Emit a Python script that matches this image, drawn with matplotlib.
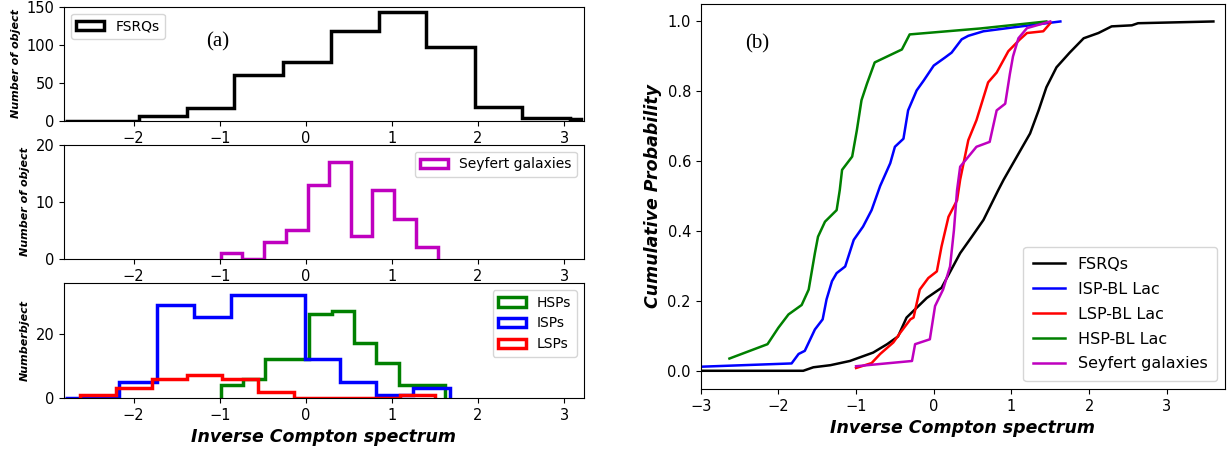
import numpy as np
import matplotlib
matplotlib.use("Agg")
import matplotlib.pyplot as plt

# ---- histogram data (bin edges + counts) ----
fsrq_edges = [-2.80, -1.94, -1.38, -0.83, -0.27, 0.29, 0.85, 1.40, 1.96, 2.51, 3.07, 3.20]
fsrq_counts = [0, 7, 17, 60, 78, 118, 143, 97, 18, 4, 2]

sey_edges = [-0.99, -0.74, -0.49, -0.23, 0.02, 0.27, 0.52, 0.77, 1.02, 1.28, 1.53]
sey_counts = [1, 0, 3, 5, 13, 17, 4, 12, 7, 2]

hsp_edges = [-0.99, -0.73, -0.47, -0.22, 0.04, 0.30, 0.56, 0.82, 1.08, 1.35, 1.62]
hsp_counts = [4, 6, 12, 12, 26, 27, 17, 11, 4, 4]

isp_edges = [-2.80, -2.17, -1.73, -1.30, -0.87, -0.44, -0.01, 0.40, 0.82, 1.25, 1.67]
isp_counts = [0, 5, 29, 25, 32, 32, 12, 5, 1, 3]

lsp_edges = [-2.62, -2.21, -1.79, -1.38, -0.97, -0.56, -0.14, 0.27, 0.68, 1.09, 1.50]
lsp_counts = [1, 3, 6, 7, 6, 2, 0, 0, 0, 1]

# ---- cumulative curves (panel b) ----
fsrq_x = [-3.2, -1.68, -1.55, -1.33, -1.08, -0.78, -0.60, -0.46, -0.35, -0.09, 0.10, 0.34,
          0.49, 0.64, 0.83, 0.90, 1.07, 1.24, 1.35, 1.45, 1.58, 1.75, 1.93, 2.12, 2.29,
          2.55, 2.63, 3.60]
fsrq_y = [0.002, 0.002, 0.012, 0.018, 0.03, 0.054, 0.078, 0.10, 0.154, 0.21, 0.239, 0.338,
          0.385, 0.433, 0.518, 0.548, 0.614, 0.68, 0.746, 0.812, 0.869, 0.911, 0.952, 0.967,
          0.986, 0.989, 0.995, 1.0]

isp_x = [-3.2, -1.83, -1.74, -1.66, -1.53, -1.43, -1.38, -1.31, -1.25, -1.14, -1.03, -0.91,
         -0.80, -0.69, -0.56, -0.50, -0.39, -0.33, -0.22, -0.13, 0.0, 0.145, 0.23, 0.36,
         0.445, 0.64, 1.02, 1.63]
isp_y = [0.012, 0.023, 0.05, 0.059, 0.12, 0.149, 0.206, 0.258, 0.281, 0.30, 0.376, 0.414,
         0.461, 0.53, 0.595, 0.642, 0.665, 0.746, 0.803, 0.831, 0.874, 0.897, 0.911, 0.949,
         0.959, 0.972, 0.983, 1.0]

lsp_x = [-1.0, -0.80, -0.69, -0.52, -0.43, -0.30, -0.26, -0.18, -0.07, 0.04, 0.10, 0.19,
         0.30, 0.34, 0.445, 0.55, 0.70, 0.81, 0.96, 1.11, 1.20, 1.41, 1.50]
lsp_y = [0.01, 0.024, 0.05, 0.083, 0.111, 0.149, 0.154, 0.234, 0.267, 0.286, 0.357, 0.442,
         0.489, 0.548, 0.661, 0.718, 0.826, 0.854, 0.915, 0.949, 0.967, 0.972, 0.995]

hsp_x = [-2.63, -2.14, -2.00, -1.87, -1.70, -1.61, -1.53, -1.49, -1.40, -1.25, -1.21, -1.18,
         -1.05, -0.99, -0.93, -0.86, -0.76, -0.41, -0.31, 0.60, 1.45]
hsp_y = [0.037, 0.078, 0.125, 0.163, 0.19, 0.234, 0.338, 0.385, 0.428, 0.461, 0.518, 0.576,
         0.614, 0.689, 0.775, 0.822, 0.883, 0.92, 0.963, 0.98, 1.0]

sey_x = [-1.0, -0.28, -0.24, -0.05, 0.017, 0.12, 0.21, 0.26, 0.30, 0.34, 0.55, 0.72, 0.81,
         0.92, 0.98, 1.02, 1.09, 1.20, 1.50]
sey_y = [0.015, 0.03, 0.078, 0.092, 0.187, 0.234, 0.30, 0.404, 0.518, 0.585, 0.642, 0.656,
         0.746, 0.765, 0.85, 0.90, 0.952, 0.981, 1.0]

fig = plt.figure(figsize=(12.28, 4.51), dpi=100)

ax1 = fig.add_axes([0.052, 0.732, 0.4235, 0.253])
ax2 = fig.add_axes([0.052, 0.426, 0.4235, 0.253])
ax3 = fig.add_axes([0.052, 0.1175, 0.4235, 0.255])
axb = fig.add_axes([0.5706, 0.1375, 0.427, 0.8537])


def step_hist(ax, edges, counts, color, label):
    ax.hist(edges[:-1], bins=edges, weights=counts, histtype="step",
            color=color, lw=2.5, label=label)


step_hist(ax1, fsrq_edges, fsrq_counts, "k", "FSRQs")
step_hist(ax2, sey_edges, sey_counts, "m", "Seyfert galaxies")
step_hist(ax3, hsp_edges, hsp_counts, "g", "HSPs")
step_hist(ax3, isp_edges, isp_counts, "b", "ISPs")
step_hist(ax3, lsp_edges, lsp_counts, "r", "LSPs")

ylab = dict(fontsize=8, fontweight="bold", fontstyle="italic")
for ax in (ax1, ax2, ax3):
    ax.set_xlim(-2.81, 3.23)
    ax.tick_params(labelsize=10.5)
ax1.set_ylim(0, 150)
ax1.set_yticks([0, 50, 100, 150])
ax2.set_ylim(0, 20)
ax2.set_yticks([0, 10, 20])
ax3.set_ylim(0, 35.7)
ax3.set_yticks([0, 20])

ax1.set_ylabel("Number of object", **ylab)
ax2.set_ylabel("Number of object", **ylab)
ax3.set_ylabel("Numberbject", **ylab)
ax3.set_xlabel("Inverse Compton spectrum", fontsize=12.5, fontweight="bold", fontstyle="italic")

ax1.legend(loc="upper left", fontsize=10)
ax2.legend(loc="upper right", fontsize=10)
ax3.legend(loc="upper right", fontsize=10)
ax1.text(-1.02, 104, "(a)", family="Liberation Serif", fontsize=15, ha="center", va="center")

# ---- panel b ----
axb.plot(fsrq_x, fsrq_y, color="k", lw=1.8, label="FSRQs")
axb.plot(isp_x, isp_y, color="b", lw=1.8, label="ISP-BL Lac")
axb.plot(lsp_x, lsp_y, color="r", lw=1.8, label="LSP-BL Lac")
axb.plot(hsp_x, hsp_y, color="g", lw=1.8, label="HSP-BL Lac")
axb.plot(sey_x, sey_y, color="m", lw=1.8, label="Seyfert galaxies")
axb.set_xlim(-3, 3.75)
axb.set_ylim(-0.05, 1.05)
axb.set_xticks([-3, -2, -1, 0, 1, 2, 3])
axb.tick_params(labelsize=10.5)
axb.set_xlabel("Inverse Compton spectrum", fontsize=12.5, fontweight="bold", fontstyle="italic")
axb.set_ylabel("Cumulative Probability", fontsize=12.5, fontweight="bold", fontstyle="italic")
axb.legend(loc="lower right", fontsize=11.5, labelspacing=0.62, borderpad=0.6)
axb.text(-2.27, 0.936, "(b)", family="Liberation Serif", fontsize=15, ha="center", va="center")

fig.savefig("out.png", dpi=100)
